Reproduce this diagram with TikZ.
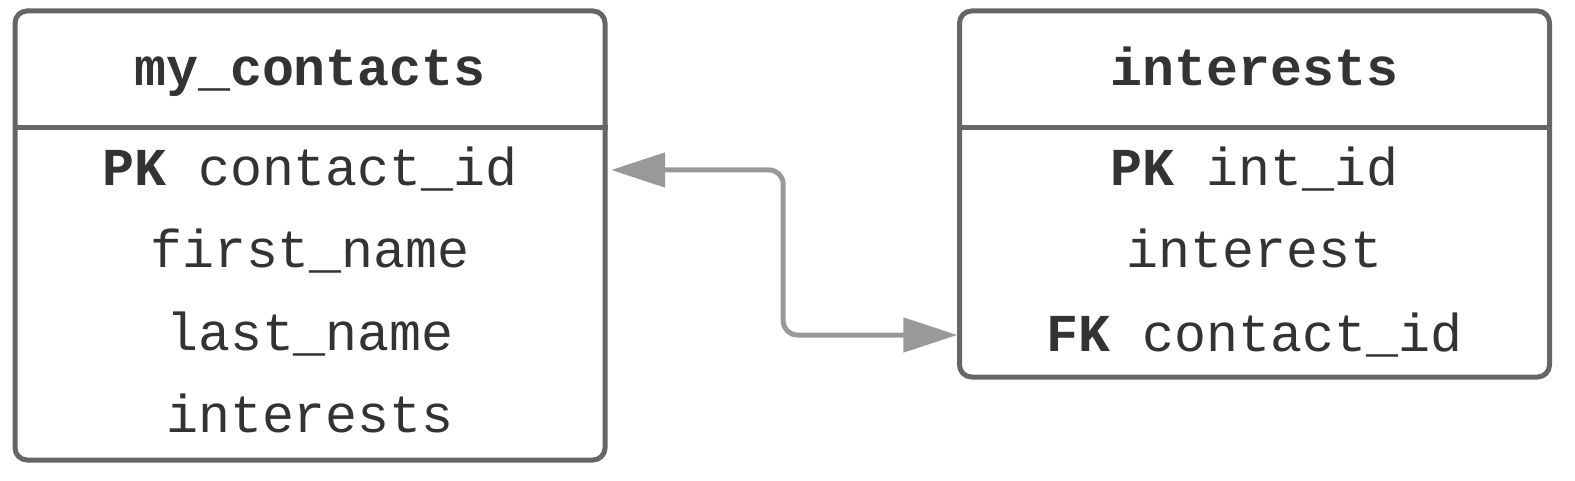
\documentclass[tikz,border=0pt]{standalone}
\usepackage{fontspec}
\setmonofont{Liberation Mono}
\usetikzlibrary{arrows.meta}
\definecolor{bordc}{HTML}{666666}
\definecolor{txtc}{HTML}{333333}
\definecolor{connc}{HTML}{999999}
\tikzset{
  tbl/.style={draw=bordc, line width=5pt, rounded corners=12pt, minimum width=590pt, inner sep=0pt, fill=white},
  row/.style={minimum width=590pt, inner sep=0pt, text height=40pt, text depth=8pt,
    font=\ttfamily\fontsize{53.3pt}{60pt}\selectfont, text=txtc},
  ttl/.style={row, font=\ttfamily\bfseries\fontsize{53.3pt}{60pt}\selectfont},
  sepline/.style={draw=bordc, line width=5pt},
  conn/.style={draw=connc, line width=5pt, rounded corners=14pt,
    {Triangle[length=54pt,width=34pt]}-{Triangle[length=54pt,width=34pt]},
    shorten <=6pt, shorten >=2pt},
}
\begin{document}
\begin{tikzpicture}[x=1pt,y=-1pt]
\useasboundingbox (0,0) rectangle (1575,481);
% my_contacts table
\node[tbl, minimum height=449pt] (a) at (310,235.5) {};
\node[ttl] (at) at (310,70) {my\_contacts};
\draw[sepline] (a.west |- 0,128) -- (a.east |- 0,128);
\node[row] (a1) at (310,170) {\textbf{PK} contact\_id};
\node[row] (a2) at (310,252) {first\_name};
\node[row] (a3) at (310,334) {last\_name};
\node[row] (a4) at (310,416) {interests};
% interests table
\node[tbl, minimum height=366pt] (b) at (1254.5,194) {};
\node[ttl] (bt) at (1254.5,70) {interests};
\draw[sepline] (b.west |- 0,128) -- (b.east |- 0,128);
\node[row] (b1) at (1254.5,170) {\textbf{PK} int\_id};
\node[row] (b2) at (1254.5,252) {interest};
\node[row] (b3) at (1254.5,335) {\textbf{FK} contact\_id};
% relation
\draw[conn] (a1.east) -- ++(178,0) |- (b3.west);
\end{tikzpicture}
\end{document}
